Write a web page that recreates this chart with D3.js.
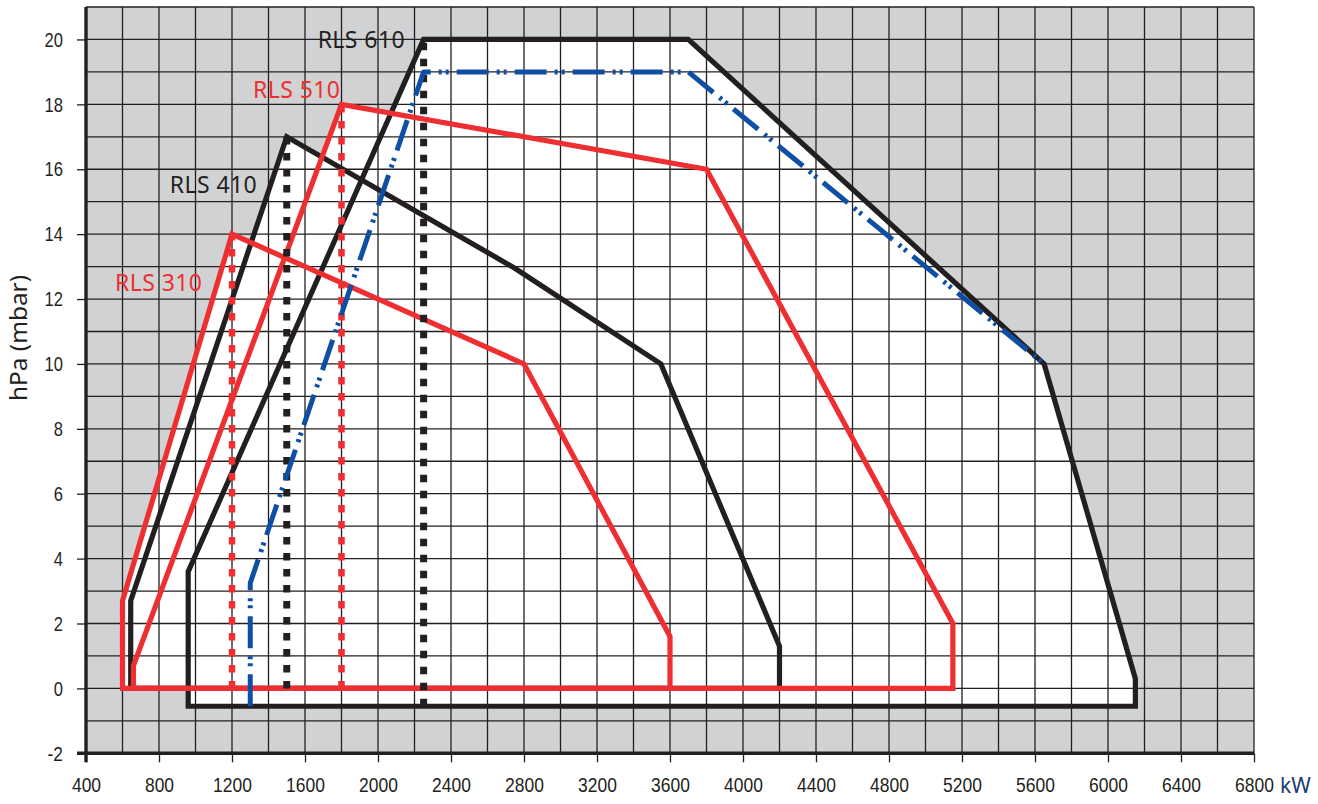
<!DOCTYPE html>
<html>
<head>
<meta charset="utf-8">
<script src="https://cdn.jsdelivr.net/npm/d3@7"></script>
<style>
  html, body { margin: 0; padding: 0; background: #ffffff; }
  svg { display: block; }
</style>
</head>
<body>
<svg id="chart" width="1318" height="804"></svg>
<script>
// ---------- data (kW, hPa) ----------
const xTickLabels = [400, 800, 1200, 1600, 2000, 2400, 2800, 3200, 3600, 4000, 4400, 4800, 5200, 5600, 6000, 6400, 6800];
const yTickLabels = [-2, 0, 2, 4, 6, 8, 10, 12, 14, 16, 18, 20];
const seriesNames = ["RLS 310", "RLS 410", "RLS 510", "RLS 610"];

const rls310 = [[600, 0], [600, 2.7], [1200, 14], [2800, 10], [3600, 1.6], [3600, 0]];
const rls410 = [[645, 0], [645, 2.7], [1500, 17], [2750, 12.95], [3550, 10], [4200, 1.3], [4200, 0]];
const rls510 = [[660, 0], [660, 0.7], [1800, 18], [3800, 16], [5150, 2], [5150, 0]];
const rls610 = [[960, -0.55], [960, 3.6], [2250, 20], [3700, 20], [5650, 10], [6150, 0.3], [6150, -0.55]];
const blueCurve = [[1300, -0.55], [1300, 3.25], [2250, 19], [3700, 19], [5650, 10]];

// dotted verticals: [kW, bottom hPa, top hPa]
const vert310 = [1200, 0, 14];
const vert410 = [1500, 0, 17];
const vert510 = [1800, 0, 18];
const vert610 = [2250, -0.55, 20];

// ---------- setup ----------
const BLACK = "#231f20", RED = "#ee2e30", BLUE = "#0f4fa3", GRAY = "#d1d2d4";
const svg = d3.select("#chart");
const x = d3.scaleLinear().domain([400, 6800]).range([86, 1254]);
const y = d3.scaleLinear().domain([-2, 21]).range([753.3, 7]);

// background
svg.append("rect").attr("x", x(400)).attr("y", y(21))
  .attr("width", x(6800) - x(400)).attr("height", y(-2) - y(21)).attr("fill", GRAY);

const line = d3.line().x(d => x(d[0])).y(d => y(d[1]));
const polys = [rls610, rls410, rls310, rls510];
// white fill of working areas
polys.forEach(p => svg.append("path").attr("d", line(p) + "Z").attr("fill", "#ffffff"));

// grid
const gx = d3.range(400, 6801, 200), gy = d3.range(-2, 22, 1);
svg.append("g").selectAll("line").data(gx).join("line")
  .attr("x1", d => x(d)).attr("x2", d => x(d)).attr("y1", y(21)).attr("y2", y(-2))
  .attr("stroke", BLACK).attr("stroke-width", 1.3);
svg.append("g").selectAll("line").data(gy).join("line")
  .attr("x1", x(400)).attr("x2", x(6800)).attr("y1", d => y(d)).attr("y2", d => y(d))
  .attr("stroke", BLACK).attr("stroke-width", 1.3);

// axes
const tickFont = "'Liberation Sans', Arial, sans-serif";
const fmt = d => String(d); // plain hyphen-minus like the original
const yAxis = d3.axisLeft(y).tickValues(yTickLabels).tickSize(9).tickPadding(14).tickFormat(fmt);
const gyA = svg.append("g").attr("transform", `translate(${x(400)},0)`).call(yAxis);
gyA.select(".domain").remove();
gyA.selectAll("line").attr("stroke", BLACK).attr("stroke-width", 1.3);
gyA.selectAll("text").attr("font-family", tickFont).attr("font-size", 21).attr("fill", BLACK)
  .attr("textLength", d => String(d).length * 9.2 - (d < 0 ? 3 : 0)).attr("lengthAdjust", "spacingAndGlyphs");

const xAxis = d3.axisBottom(x).tickValues(xTickLabels).tickSize(9).tickPadding(16).tickFormat(fmt);
const gxA = svg.append("g").attr("transform", `translate(0,${y(-2)})`).call(xAxis);
gxA.select(".domain").remove();
gxA.selectAll("line").attr("stroke", BLACK).attr("stroke-width", 1.3);
gxA.selectAll("text").attr("font-family", tickFont).attr("font-size", 20).attr("fill", BLACK)
  .attr("textLength", d => String(d).length * 9.7).attr("lengthAdjust", "spacingAndGlyphs");

// thick axis lines
svg.append("line").attr("x1", x(400)).attr("x2", x(400)).attr("y1", y(21)).attr("y2", y(-2) + 9)
  .attr("stroke", BLACK).attr("stroke-width", 3.4);
svg.append("line").attr("x1", x(400) - 9).attr("x2", x(6800)).attr("y1", y(-2)).attr("y2", y(-2))
  .attr("stroke", BLACK).attr("stroke-width", 3.6);

// outlines
function outline(p, color) {
  svg.append("path").attr("d", line(p) + "Z").attr("fill", "none")
    .attr("stroke", color).attr("stroke-width", 5.2).attr("stroke-linejoin", "miter");
}
outline(rls610, BLACK);
outline(rls410, BLACK);
outline(rls310, RED);
outline(rls510, RED);

// dotted verticals
function vert(v, color, w) {
  svg.append("line").attr("x1", x(v[0])).attr("x2", x(v[0])).attr("y1", y(v[1])).attr("y2", y(v[2]))
    .attr("stroke", color).attr("stroke-width", w).attr("stroke-dasharray", "7.5,8.5");
}
vert(vert310, RED, 6.5);
vert(vert510, RED, 6.5);
vert(vert410, BLACK, 7);
vert(vert610, BLACK, 7);

// blue dash-dot-dot curve
svg.append("path").attr("d", line(blueCurve)).attr("fill", "none")
  .attr("stroke", BLUE).attr("stroke-width", 5).attr("stroke-linejoin", "round")
  .attr("stroke-dasharray", "32,8,3,4,3,8");

// series labels
const labelFont = "'Noto Sans', 'Open Sans', sans-serif";
const labelColors = [RED, BLACK, RED, BLACK];
const labelPos = [[1200, 14], [1500, 17], [1800, 18], [2250, 20]]; // anchored near each series' peak
const labelOffsets = [[-117, 57], [-117, 56], [-88.5, -6], [-106, 9]];
seriesNames.forEach((name, i) => {
  svg.append("text").attr("x", x(labelPos[i][0]) + labelOffsets[i][0]).attr("y", y(labelPos[i][1]) + labelOffsets[i][1])
    .attr("font-family", labelFont).attr("font-size", 23).attr("fill", labelColors[i])
    .attr("textLength", 87).attr("lengthAdjust", "spacing")
    .text(name);
});

// axis titles
svg.append("text").attr("transform", "translate(27,338) rotate(-90)")
  .attr("text-anchor", "middle").attr("font-family", labelFont).attr("font-size", 23)
  .attr("textLength", 126).attr("lengthAdjust", "spacingAndGlyphs")
  .attr("fill", BLACK).text("hPa (mbar)");
svg.append("text").attr("x", 1280).attr("y", 793)
  .attr("font-family", labelFont).attr("font-size", 21).attr("fill", "#1d3a75").text("kW");
</script>
</body>
</html>
